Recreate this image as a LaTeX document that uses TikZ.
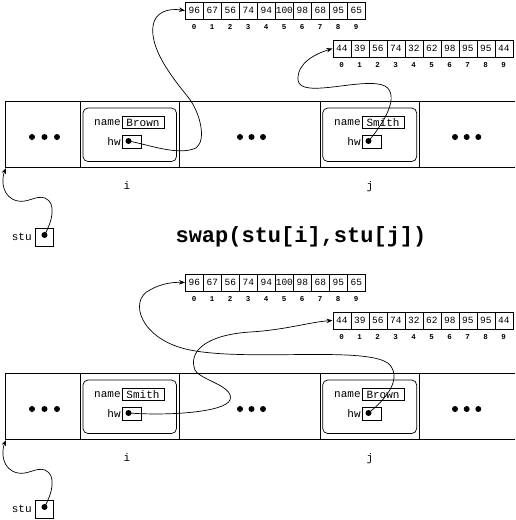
\documentclass[tikz,border=0pt]{standalone}
\usepackage{fontspec}
\newfontfamily\mono{Liberation Mono}
\usetikzlibrary{arrows.meta,calc}
\begin{document}
\begin{tikzpicture}[x=1pt,y=-1pt,line width=0.7pt,
  cell/.style={draw,minimum width=18pt,minimum height=17pt,inner sep=0pt,anchor=west,font=\mono\fontsize{9.5}{10}\selectfont},
  idx/.style={inner sep=0pt,font=\mono\bfseries\fontsize{7.5}{8}\selectfont},
  lbl/.style={inner sep=0pt,font=\mono\fontsize{11}{12}\selectfont},
  namebox/.style={draw,minimum width=42pt,minimum height=11.5pt,inner sep=0pt,font=\mono\fontsize{11}{12}\selectfont},
  hwbox/.style={draw,minimum width=19pt,minimum height=13pt,inner sep=0pt},
  ptdot/.style={circle,fill,inner sep=0pt,minimum size=6pt},
  rbox/.style={draw,rounded corners=5pt},
  ptr/.style={-{Stealth[length=6pt,width=4.5pt]}},
  title/.style={inner sep=0pt,font=\mono\bfseries\fontsize{22}{24}\selectfont}]
\useasboundingbox (0,0) rectangle (515,520);
\foreach \o/\p/\ni/\nj in {0/U/Brown/Smith,272/L/Smith/Brown}{
 \begin{scope}[shift={(0,\o)}]
  % arrays
  \foreach \v [count=\k from 0] in {96,67,56,74,94,100,98,68,95,65}{
    \node[cell] (\p-a-\k) at (185+18*\k,10.5) {\v};
    \node[idx] (\p-ai-\k) at (194+18*\k,27) {\k};
  }
  \foreach \v [count=\k from 0] in {44,39,56,74,32,62,98,95,95,44}{
    \node[cell] (\p-b-\k) at (332.5+18*\k,48.5) {\v};
    \node[idx] (\p-bi-\k) at (341.5+18*\k,65) {\k};
  }
  % storage row
  \draw (515,101) -- (5,101) -- (5,167) -- (515,167);
  \foreach \xx in {80,179.5,320,419}{\draw (\xx,101) -- (\xx,167);}
  \foreach \xx in {32,44.5,57,240,251.5,263,455,466.7,478.3}{\fill (\xx,137) circle (3);}
  % element i
  \draw[rbox] (83,108) rectangle (176.5,161.5);
  \node[namebox] (\p-iname) at (143,122.5) {\ni};
  \node[lbl,anchor=east] (\p-inamel) at (121,123) {name};
  \node[hwbox] (\p-ihw) at (131.5,141.5) {};
  \node[lbl,anchor=east] (\p-ihwl) at (121,141.5) {hw};
  \node[ptdot] (\p-idot) at (128.5,141) {};
  % element j
  \draw[rbox] (322.7,108) rectangle (416.7,161.5);
  \node[namebox] (\p-jname) at (383,122.5) {\nj};
  \node[lbl,anchor=east] (\p-jnamel) at (361,123) {name};
  \node[hwbox] (\p-jhw) at (371.5,141.5) {};
  \node[lbl,anchor=east] (\p-jhwl) at (361,141.5) {hw};
  \node[ptdot] (\p-jdot) at (368.5,141) {};
  % labels
  \node[lbl] (\p-il) at (127,186) {i};
  \node[lbl] (\p-jl) at (370,187) {j};
  % stu
  \node[lbl,anchor=east] (\p-stul) at (32,237) {stu};
  \node[draw,minimum width=18pt,minimum height=18pt,inner sep=0pt] (\p-stu) at (44,237) {};
  \node[ptdot] (\p-sdot) at (44.5,235) {};
  \coordinate (\p-corner) at (6,168);
  \draw[ptr] (\p-sdot.center) .. controls (52,222) and (57,203) .. (45,198)
     .. controls (36,195) and (28,203) .. (18,201)
     .. controls (2,198) and (1,180) .. (\p-corner);
 \end{scope}
}
\node[title] (swap) at (301,237) {swap(stu[i],stu[j])};
% upper pointers
\draw[ptr] (U-idot.center) .. controls (150,145) and (178,156) .. (196,148)
  .. controls (207,140) and (200,112) .. (188,97)
  .. controls (170,75) and (150,48) .. (153,26)
  .. controls (155,12) and (168,8) .. (U-a-0.west);
\draw[ptr] (U-jdot.center) .. controls (385,122) and (400,95) .. (385,86)
  .. controls (365,76) and (300,100) .. (298,80)
  .. controls (297,63) and (315,54) .. (U-b-0.west);
% lower pointers
\draw[ptr] (L-idot.center) .. controls (170,416) and (225,412) .. (230,400)
  .. controls (235,386) and (200,380) .. (195,370)
  .. controls (188,352) and (205,335) .. (250,332)
  .. controls (285,330) and (310,322) .. (L-b-0.west);
\draw[ptr] (L-jdot.center) .. controls (385,400) and (402,380) .. (390,365)
  .. controls (372,345) and (250,362) .. (190,350)
  .. controls (140,340) and (128,300) .. (150,290)
  .. controls (160,284) and (172,282) .. (L-a-0.west);
\end{tikzpicture}
\end{document}
